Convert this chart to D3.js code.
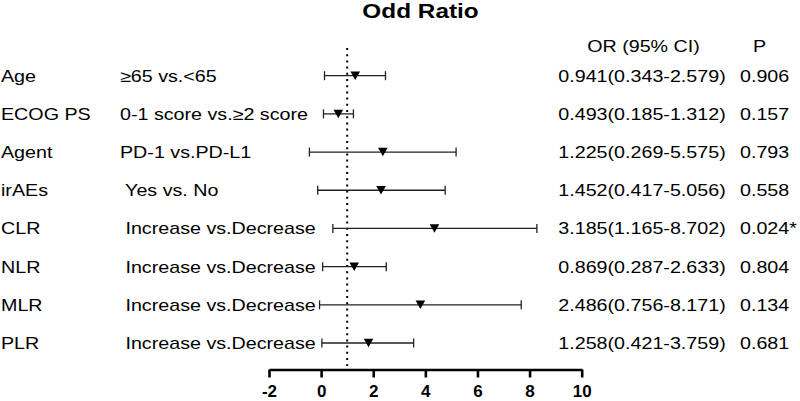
<!DOCTYPE html>
<html>
<head>
<meta charset="utf-8">
<script src="https://cdn.jsdelivr.net/npm/d3@7"></script>
<style>
  html, body { margin: 0; padding: 0; background: #fff; }
  svg { display: block; }
  text { font-family: "Liberation Sans", Arial, sans-serif; fill: #000; white-space: pre; }
</style>
</head>
<body>
<svg id="chart" width="800" height="401"></svg>
<script>
const variables = ["Age", "ECOG PS", "Agent", "irAEs", "CLR", "NLR", "MLR", "PLR"];
const comparisons = ["≥65 vs.<65", "0-1 score vs.≥2 score", "PD-1 vs.PD-L1", " Yes vs. No",
  " Increase vs.Decrease", " Increase vs.Decrease", " Increase vs.Decrease", " Increase vs.Decrease"];
const orCI = ["0.941(0.343-2.579)", "0.493(0.185-1.312)", "1.225(0.269-5.575)", "1.452(0.417-5.056)",
  "3.185(1.165-8.702)", "0.869(0.287-2.633)", "2.486(0.756-8.171)", "1.258(0.421-3.759)"];
const pValues = ["0.906", "0.157", "0.793", "0.558", "0.024*", "0.804", "0.134", "0.681"];
// plotted marker / whisker positions
const estimate = [1.31, 0.66, 2.37, 2.30, 4.35, 1.27, 3.81, 1.82];
const lower = [0.13, 0.09, -0.45, -0.13, 0.45, 0.06, -0.06, 0.03];
const upper = [2.47, 1.24, 5.18, 4.76, 8.28, 2.50, 7.68, 3.55];
const tickValues = [-2, 0, 2, 4, 6, 8, 10];
const refValue = 1;
const title = "Odd Ratio";
const headerOR = "OR (95% CI)";
const headerP = "P";

const rows = variables.map((v, i) => ({
  v, cmp: comparisons[i], or: orCI[i], p: pValues[i],
  est: estimate[i], lo: lower[i], hi: upper[i]
}));

const svg = d3.select("#chart");
const x = d3.scaleLinear().domain([-2, 10]).range([269, 581.7]);
const y = d3.scalePoint().domain(variables).range([75.7, 343]);

const SX = 1.2, FS = 16.4;
function label(g, txt, px, py, anchor, size, weight) {
  g.append("text")
    .attr("transform", `translate(${px},${py}) scale(${SX},1)`)
    .attr("text-anchor", anchor || "start")
    .style("font-size", (size || FS) + "px")
    .style("font-weight", weight || "normal")
    .text(txt);
}

// title and headers
label(svg, title, 420.5, 17.5, "middle", 20.3, "bold");
label(svg, headerOR, 643.5, 52, "middle");
label(svg, headerP, 759.5, 52, "middle");

// reference dotted line
svg.append("line")
  .attr("x1", x(refValue)).attr("x2", x(refValue))
  .attr("y1", 48).attr("y2", 366)
  .attr("stroke", "#000").attr("stroke-width", 2)
  .attr("stroke-dasharray", "2,4.2");

// rows
const rg = svg.append("g");
rows.forEach(d => {
  const cy = y(d.v);
  label(rg, d.v, 1, cy + 6);
  label(rg, d.cmp, 120, cy + 6);
  label(rg, d.or, 642, cy + 6, "middle");
  label(rg, d.p, 740, cy + 6);

  rg.append("line")
    .attr("x1", x(d.lo)).attr("x2", x(d.hi))
    .attr("y1", cy).attr("y2", cy)
    .attr("stroke", "#222").attr("stroke-width", 1.3);
  [d.lo, d.hi].forEach(v => {
    rg.append("line")
      .attr("x1", x(v)).attr("x2", x(v))
      .attr("y1", cy - 4.5).attr("y2", cy + 4.5)
      .attr("stroke", "#222").attr("stroke-width", 1.3);
  });
  const mx = x(d.est);
  rg.append("path")
    .attr("d", `M${mx - 4.8},${cy - 4.2}L${mx + 4.8},${cy - 4.2}L${mx},${cy + 4.3}Z`)
    .attr("fill", "#000");
});

// axis
const axis = d3.axisBottom(x).tickValues(tickValues).tickSize(8).tickSizeOuter(0).tickFormat(d3.format("d"));
const ag = svg.append("g").attr("transform", "translate(0,369.5)").call(axis);
ag.select(".domain").attr("stroke", "#000").attr("stroke-width", 2.6);
ag.selectAll(".tick line").attr("stroke", "#000").attr("stroke-width", 2.6);
ag.selectAll(".tick text")
  .attr("y", 27.5).attr("dy", 0)
  .style("font-family", "'Liberation Sans', Arial, sans-serif")
  .style("font-size", "17px").style("font-weight", "bold").style("fill", "#000")
  .text(d => d < 0 ? "-" + Math.abs(d) : d);
</script>
</body>
</html>
